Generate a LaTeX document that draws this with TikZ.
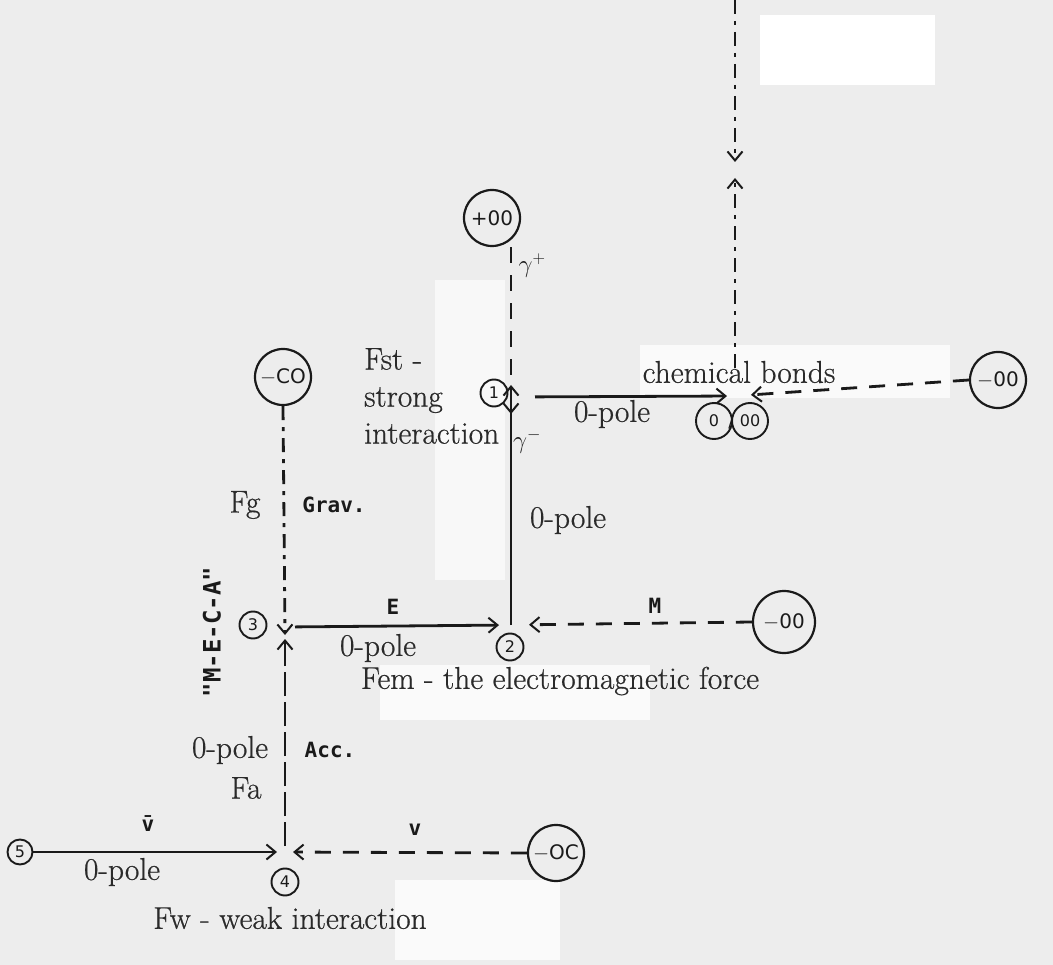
\documentclass[tikz,border=0pt]{standalone}
\usepackage{fontspec}
\newfontfamily\circfont{DejaVu Sans}
\newfontfamily\monof{DejaVu Sans Mono}
\newfontfamily\serifb{Latin Modern Roman}[FakeBold=0.6]
\usetikzlibrary{arrows.meta,calc}
\definecolor{bgc}{HTML}{EDEDED}
\definecolor{ink}{HTML}{1A1A1A}
\definecolor{txt}{HTML}{2A2A2A}
\tikzset{
  bigc/.style={circle,draw=ink,line width=2.2pt,minimum size=56pt,inner sep=0pt,font=\circfont\fontsize{20}{20}\selectfont,text=ink},
  smallc/.style={circle,draw=ink,line width=1.9pt,minimum size=27pt,inner sep=0pt,font=\circfont\fontsize{16}{16}\selectfont,text=ink},
  lbl/.style={font=\serifb\fontsize{31.5}{38}\selectfont,text=txt,inner sep=0pt},
  mlbl/.style={font=\monof\bfseries\fontsize{21}{21}\selectfont,text=ink,inner sep=0pt},
  tip/.style={-{Straight Barb[length=9pt,width=15pt,line width=2pt]}},
  solidc/.style={draw=ink,line width=2.8pt,tip},
  dashc/.style={draw=ink,line width=2.8pt,dash pattern=on 16pt off 12pt,tip},
  dotdash/.style={draw=ink,line width=2.8pt,dash pattern=on 14pt off 7pt on 4pt off 7pt,tip},
}
\begin{document}
\begin{tikzpicture}[x=1pt,y=-1pt]
\fill[bgc] (0,0) rectangle (1053,965);
\useasboundingbox (0,0) rectangle (1053,965);
% white patches of the scan
\fill[white] (760,15) rectangle (935,85);
\fill[white!70!bgc] (640,345) rectangle (950,398);
\fill[white!70!bgc] (380,665) rectangle (650,720);
\fill[white!70!bgc] (395,880) rectangle (560,960);
\fill[white!60!bgc] (435,280) rectangle (505,580);

% nodes
\node[bigc] (pinf) at (492,218) {+00};
\node[smallc] (n1) at (494,393) {1};
\coordinate (j1) at (511,397);
\coordinate (jc) at (735,396);
\node[smallc,minimum size=36pt] (c0) at (714,421) {0};
\node[smallc,minimum size=36pt] (c00) at (750,421) {00};
\node[font=\circfont\fontsize{16}{16}\selectfont,text=ink,inner sep=0pt] (slash) at (731,422) {/};
\node[bigc] (mR1) at (998,380) {$-$00};
\coordinate (vtop) at (735,0);
\coordinate (vmid1) at (735,162);
\coordinate (vmid2) at (735,178);
\node[bigc] (mL) at (283,377) {$-$CO};
\node[smallc] (n3) at (253,625) {3};
\coordinate (j3) at (285,627);
\node[smallc] (n2) at (510,647) {2};
\coordinate (j2) at (511,625);
\node[bigc,minimum size=62pt] (mR2) at (784,622) {$-$00};
\node[smallc] (n4) at (285,882) {4};
\coordinate (j4) at (285,852);
\node[smallc,minimum size=25pt] (n5) at (20,852) {5};
\node[bigc] (mR3) at (556,853) {$-$OC};

% connectors
\draw[dashc] (j1 |- pinf.south) -- ([yshift=-17pt]j1);
\draw[solidc] (j2) -- ([yshift=12pt]j1);
\draw[solidc,shorten <=24pt,shorten >=8pt] (j1) -- (jc);
\draw[dashc,shorten >=16pt] (mR1.west) -- (jc);
\draw[dotdash] (vtop) -- (vmid1);
\draw[dotdash,shorten <=28pt] (jc) -- (vmid2);
\draw[dotdash] (mL.south) -- ([yshift=-8pt]j3);
\draw[solidc,shorten <=10pt,shorten >=12pt] (j3) -- (j2);
\draw[dashc,shorten >=18pt] (mR2.west) -- (j2);
\draw[dashc,dash pattern=on 24pt off 6pt,shorten <=6pt,shorten >=12pt] (j4) -- (j3);
\draw[solidc,shorten >=8pt] (n5.east) -- (j4);
\draw[dashc,shorten >=8pt] (mR3.west) -- (j4);

% labels
\node[lbl,anchor=west,align=left,font=\serifb\fontsize{31.5}{37}\selectfont] (fst) at (364,396) {Fst -\\strong\\interaction};
\node[font=\fontsize{27}{27}\selectfont,text=ink] (gp) at (532,266) {$\gamma^{+}$};
\node[font=\fontsize{27}{27}\selectfont,text=ink] (gm) at (527,441) {$\gamma^{-}$};
\node[lbl] (chem) at (739,372) {chemical bonds};
\node[lbl] (p1) at (612,414) {0-pole};
\node[lbl] (p2) at (568,520) {0-pole};
\node[lbl] (fg) at (245,505) {Fg};
\node[mlbl] (grav) at (334,505) {Grav.};
\node[mlbl] (e) at (393,607) {E};
\node[lbl] (p3) at (378,648) {0-pole};
\node[mlbl] (m) at (655,606) {M};
\node[lbl] (fem) at (560,681) {Fem - the electromagnetic force};
\node[mlbl,rotate=90,font=\monof\bfseries\fontsize{24}{24}\selectfont] (meca) at (212,632) {"M-E-C-A"};
\node[lbl] (p4) at (230,750) {0-pole};
\node[lbl] (fa) at (246,788) {Fa};
\node[mlbl] (acc) at (330,750) {Acc.};
\node[mlbl] (vbar) at (148,824) {\={v}};
\node[lbl] (p5) at (122,872) {0-pole};
\node[mlbl] (v) at (415,830) {v};
\node[lbl] (fw) at (290,918) {Fw - weak interaction};
\end{tikzpicture}
\end{document}
